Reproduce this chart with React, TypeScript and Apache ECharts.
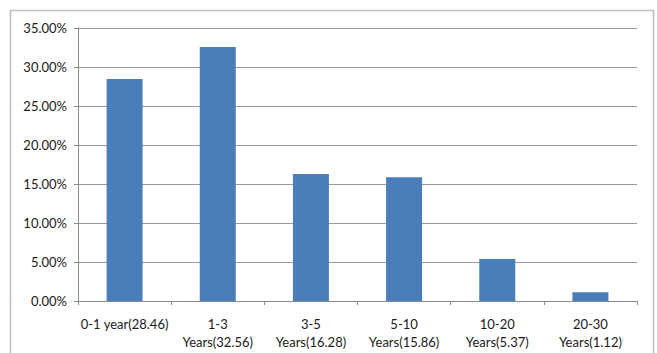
import React, { useEffect, useRef } from "react";
import * as echarts from "echarts";

const categories = [
  "0-1 year(28.46)",
  "1-3\nYears(32.56)",
  "3-5\nYears(16.28)",
  "5-10\nYears(15.86)",
  "10-20\nYears(5.37)",
  "20-30\nYears(1.12)",
];
const values = [28.46, 32.56, 16.28, 15.86, 5.37, 1.12];

export default function App() {
  const ref = useRef<HTMLDivElement>(null);
  useEffect(() => {
    if (!ref.current) return;
    const chart = echarts.init(ref.current, undefined, { renderer: "svg" });
    const font = "Lato, 'Open Sans', sans-serif";
    chart.setOption({
      animation: false,
      backgroundColor: "#ffffff",
      graphic: [
        {
          type: "rect",
          shape: { x: 10.5, y: 10.5, width: 643, height: 360 },
          style: { fill: "none", stroke: "#bdbdbd", lineWidth: 1.5 },
          silent: true,
        },
      ],
      grid: { left: 78, right: 20, top: 28, bottom: 52, containLabel: false },
      xAxis: {
        type: "category",
        data: categories,
        axisLine: { show: true, lineStyle: { color: "#8a8a8a", width: 1 } },
        axisTick: { show: true, length: 4, lineStyle: { color: "#8a8a8a" } },
        axisLabel: {
          color: "#1a1a1a",
          fontSize: 13,
          fontFamily: font,
          margin: 14,
          lineHeight: 18,
          interval: 0,
        },
      },
      yAxis: {
        type: "value",
        min: 0,
        max: 35,
        interval: 5,
        axisLine: { show: true, lineStyle: { color: "#8a8a8a", width: 1 } },
        axisTick: { show: true, length: 4, lineStyle: { color: "#8a8a8a" } },
        axisLabel: {
          color: "#1a1a1a",
          fontSize: 13,
          fontFamily: font,
          margin: 11,
          formatter: (v: number) => v.toFixed(2) + "%",
        },
        splitLine: { show: true, lineStyle: { color: "#9a9a9a", width: 1 } },
      },
      series: [
        {
          type: "bar",
          data: values,
          barWidth: 36,
          itemStyle: { color: "#4a7ebb" },
        },
      ],
    });
    return () => chart.dispose();
  }, []);
  return (
    <div
      ref={ref}
      style={{ position: "absolute", left: 0, top: 0, width: 657, height: 353 }}
    />
  );
}
